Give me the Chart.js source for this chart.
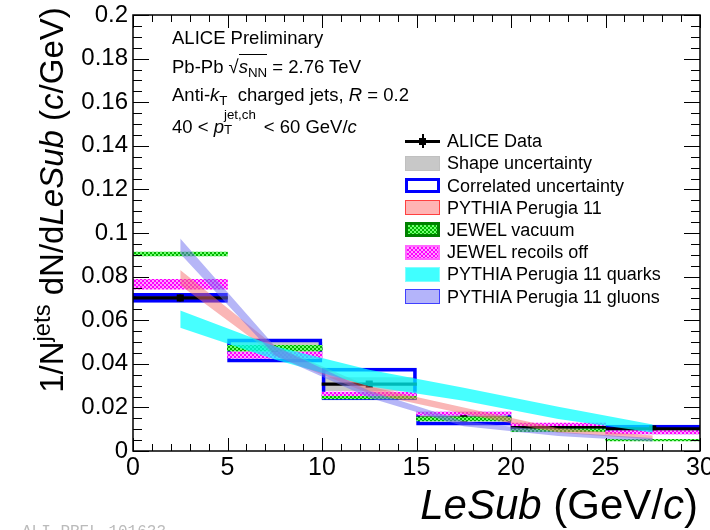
<!DOCTYPE html>
<html><head><meta charset="utf-8">
<script src="https://cdn.jsdelivr.net/npm/chart.js@4.4.1/dist/chart.umd.min.js"></script>
<style>
html,body{margin:0;padding:0;background:#fff;}
#wrap{position:relative;width:710px;height:530px;overflow:hidden;font-family:'Liberation Sans',Arial,sans-serif;color:#000;}
#c{position:absolute;left:0;top:0;}
.t{position:absolute;white-space:nowrap;}
.ann{font-size:18.5px;line-height:18.5px;left:172px;}
.sb{font-size:0.72em;position:relative;top:0.3em;}
.sp{font-size:0.72em;position:relative;top:-0.55em;}
.ol{border-top:1.2px solid #000;padding-top:1px;}
.leg{font-size:18px;line-height:18px;left:447px;}
.sw{position:absolute;left:405px;width:35px;height:15px;box-sizing:border-box;}
#ytitle{position:absolute;width:460px;height:40px;line-height:40px;font-size:33px;text-align:center;transform:rotate(-90deg);transform-origin:50% 50%;white-space:nowrap;}
#xtitle{position:absolute;right:12px;top:484px;font-size:42px;line-height:42px;white-space:nowrap;}
#wm{position:absolute;left:22px;top:524px;font-family:'Liberation Mono',monospace;font-size:16px;line-height:16px;color:#bbb;}
</style></head>
<body>
<div id="wrap">
<canvas id="c" width="710" height="530"></canvas>

<div class="t ann" style="top:29px;">ALICE Preliminary</div>
<div class="t ann" style="top:58px;">Pb-Pb <span>&#8730;<span class="ol"><i>s</i><span class="sb">NN</span></span></span> = 2.76 TeV</div>
<div class="t ann" style="top:86px;">Anti-<i>k</i><span class="sb">T</span>&nbsp; charged jets, <i>R</i> = 0.2</div>
<div class="t ann" style="top:114px;">40 &lt; <i>p</i><span style="display:inline-block;position:relative;width:2.15em;height:1em;"><span style="position:absolute;left:0;top:-0.6em;font-size:0.72em;">jet,ch</span><span style="position:absolute;left:0;top:0.55em;font-size:0.72em;">T</span></span>&lt; 60 GeV/<i>c</i></div>

<div class="sw" style="top:140px;height:2.5px;background:#000;"></div>
<div class="sw" style="top:137.5px;left:419px;width:7px;height:7px;background:#000;"></div>
<div class="sw" style="top:134px;left:421.5px;width:2px;height:14px;background:#000;"></div>
<div class="t leg" style="top:132.2px;">ALICE Data</div>

<div class="sw" style="top:155.7px;background:#c8c8c8;border:1px solid #c0c0c0;"></div>
<div class="t leg" style="top:154.4px;">Shape uncertainty</div>

<div class="sw" style="top:177.9px;background:#fff;border:3px solid #0000ff;"></div>
<div class="t leg" style="top:176.6px;">Correlated uncertainty</div>

<div class="sw" style="top:200.1px;background:#ffb4b4;border:1.5px solid #ff4040;"></div>
<div class="t leg" style="top:198.8px;">PYTHIA Perugia 11</div>

<div class="sw" style="top:222.3px;background:repeating-conic-gradient(#00b400 0 25%, #70ff70 0 50%) 0 0/4px 4px;border:3px solid #008000;"></div>
<div class="t leg" style="top:221px;">JEWEL vacuum</div>

<div class="sw" style="top:244.5px;background:repeating-conic-gradient(#ff00ff 0 25%, #ffa0ff 0 50%) 0 0/4px 4px;border:2px solid #ff66ff;"></div>
<div class="t leg" style="top:243.2px;">JEWEL recoils off</div>

<div class="sw" style="top:266.7px;background:#40ffff;border:1px solid #80ffff;"></div>
<div class="t leg" style="top:265.4px;">PYTHIA Perugia 11 quarks</div>

<div class="sw" style="top:288.9px;background:#b4b4fa;border:1.5px solid #4040ff;"></div>
<div class="t leg" style="top:287.6px;">PYTHIA Perugia 11 gluons</div>

<div id="ytitle" style="left:-178px;top:180px;">1/N<span class="sp">jets</span> dN/d<i>LeSub</i> (<i>c</i>/GeV)</div>
<div id="xtitle"><i>LeSub</i> (GeV/<i>c</i>)</div>
<div id="wm">ALI-PREL-101633</div>
</div>

<script>
// ---- data ----
const binCenters = [2.5, 7.5, 12.5, 17.5, 22.5, 27.5];
const aliceData = [0.0702, 0.0470, 0.0307, 0.0151, 0.0110, 0.0101];
const aliceStatErr = [0.0016, 0.0010, 0.0010, 0.0006, 0.0005, 0.0005];
const shapeUnc = [0.0015, 0.0030, 0.0030, 0.0012, 0.0010, 0.0008];
const corrUncLow = [0.0682, 0.0408, 0.0234, 0.0119, 0.0087, 0.0078];
const corrUncHigh = [0.0723, 0.0514, 0.0380, 0.0179, 0.0124, 0.0119];
const jewelVacuum = [0.0904, 0.0472, 0.0248, 0.0147, 0.0095, 0.0050];
const jewelVacuumErr = [0.0009, 0.0013, 0.0009, 0.0009, 0.0006, 0.0004];
const jewelRecoilsOff = [0.0765, 0.0440, 0.0262, 0.0172, 0.0122, 0.0085];
const jewelRecoilsOffErr = [0.0023, 0.0014, 0.0008, 0.0007, 0.0006, 0.0007];
const pythia = [0.0795, 0.0460, 0.0280, 0.0185, 0.0094, 0.0062];
const pythiaErr = [0.0035, 0.0022, 0.0016, 0.0014, 0.0010, 0.0009];
const pythiaQuarks = [0.0605, 0.0450, 0.0335, 0.0260, 0.0175, 0.0103];
const pythiaQuarksErr = [0.0040, 0.0030, 0.0038, 0.0030, 0.0028, 0.0018];
const pythiaGluons = [0.0940, 0.0460, 0.0260, 0.0125, 0.0078, 0.0052];
const pythiaGluonsErr = [0.0035, 0.0022, 0.0016, 0.0012, 0.0009, 0.0008];

function makePattern(base, dot) {
  const c = document.createElement('canvas'); c.width = 4; c.height = 4;
  const g = c.getContext('2d');
  g.fillStyle = base; g.fillRect(0, 0, 4, 4);
  g.fillStyle = dot; g.fillRect(0, 0, 2, 2); g.fillRect(2, 2, 2, 2);
  return g.createPattern(c, 'repeat');
}
const greenPat = makePattern('#00b400', '#70ff70');
const magPat = makePattern('#ff00ff', '#ffa0ff');

const band = (vals, errs, sign) => binCenters.map((x, i) => ({x, y: vals[i] + sign * errs[i]}));
const bars = (vals, errs) => binCenters.map((x, i) => ({x, y: [vals[i] - errs[i], vals[i] + errs[i]]}));
const barBase = {type: 'bar', grouped: false, barPercentage: 1, categoryPercentage: 1, borderSkipped: false};
const lineBase = {type: 'line', pointRadius: 0, borderWidth: 0, tension: 0};

const datasets = [
  {...barBase, label: 'Shape uncertainty', data: bars(aliceData, shapeUnc), backgroundColor: '#c8c8c8', borderWidth: 0, order: 20},
  {...barBase, label: 'Correlated uncertainty', data: binCenters.map((x, i) => ({x, y: [corrUncLow[i], corrUncHigh[i]]})), backgroundColor: 'rgba(0,0,0,0)', borderColor: '#0000ff', borderWidth: 3, order: 19},
  {...barBase, label: 'ALICE Data line', data: bars(aliceData, aliceData.map(() => 0.0006)), backgroundColor: '#000', borderWidth: 0, order: 18},
  {...barBase, label: 'ALICE Data err', data: bars(aliceData, aliceStatErr), backgroundColor: '#000', borderWidth: 0, barPercentage: 0.022, order: 17},
  {type: 'line', label: 'ALICE Data', data: binCenters.map((x, i) => ({x, y: aliceData[i]})), showLine: false, pointStyle: 'rect', pointRadius: 5, backgroundColor: '#000', borderColor: '#000', borderWidth: 0, order: 16},
  {...barBase, label: 'JEWEL vacuum', data: bars(jewelVacuum, jewelVacuumErr), backgroundColor: greenPat, borderWidth: 0, order: 15},
  {...barBase, label: 'JEWEL recoils off', data: bars(jewelRecoilsOff, jewelRecoilsOffErr), backgroundColor: magPat, borderWidth: 0, order: 14},
  {...lineBase, label: 'PYTHIA Perugia 11 hi', data: band(pythia, pythiaErr, 1), fill: false, order: 13},
  {...lineBase, label: 'PYTHIA Perugia 11', data: band(pythia, pythiaErr, -1), fill: '-1', backgroundColor: 'rgba(245,110,110,0.5)', order: 12},
  {...lineBase, label: 'PYTHIA Perugia 11 quarks hi', data: band(pythiaQuarks, pythiaQuarksErr, 1), fill: false, order: 11},
  {...lineBase, label: 'PYTHIA Perugia 11 quarks', data: band(pythiaQuarks, pythiaQuarksErr, -1), fill: '-1', backgroundColor: 'rgba(0,255,255,0.72)', order: 10},
  {...lineBase, label: 'PYTHIA Perugia 11 gluons hi', data: band(pythiaGluons, pythiaGluonsErr, 1), fill: false, order: 9},
  {...lineBase, label: 'PYTHIA Perugia 11 gluons', data: band(pythiaGluons, pythiaGluonsErr, -1), fill: '-1', backgroundColor: 'rgba(110,110,240,0.5)', order: 8}
];

const frameTicks = {
  id: 'frameTicks',
  afterDraw(chart) {
    const {ctx, chartArea: a, scales: {x, y}} = chart;
    ctx.save();
    ctx.strokeStyle = '#000';
    ctx.lineWidth = 1;
    const seg = (x1, y1, x2, y2) => { ctx.beginPath(); ctx.moveTo(x1, y1); ctx.lineTo(x2, y2); ctx.stroke(); };
    for (let i = 0; i <= 30; i++) {
      const px = Math.round(x.getPixelForValue(i)) + 0.5;
      const len = i % 5 === 0 ? 13 : 7;
      seg(px, a.bottom, px, a.bottom - len);
      seg(px, a.top, px, a.top + len);
    }
    for (let i = 0; i <= 40; i++) {
      const py = Math.round(y.getPixelForValue(i * 0.005)) + 0.5;
      const len = i % 4 === 0 ? 16 : 9;
      seg(a.left, py, a.left + len, py);
      seg(a.right, py, a.right - len, py);
    }
    ctx.lineWidth = 1.5;
    ctx.strokeRect(a.left, a.top, a.right - a.left, a.bottom - a.top);
    ctx.restore();
  }
};

new Chart(document.getElementById('c'), {
  type: 'line',
  data: {datasets},
  options: {
    responsive: false, animation: false, devicePixelRatio: 1, events: [],
    layout: {padding: {left: 0, right: 10, top: 15, bottom: 0}},
    plugins: {legend: {display: false}, tooltip: {enabled: false}},
    scales: {
      x: {type: 'linear', min: 0, max: 30, offset: false,
          grid: {display: false, drawTicks: false}, border: {display: false},
          ticks: {stepSize: 5, color: '#000', font: {family: 'Liberation Sans', size: 25}, padding: 2, maxRotation: 0, autoSkip: false},
          afterFit(s) { s.height = 79; s.paddingLeft = 0; s.paddingRight = 0; }},
      y: {type: 'linear', min: 0, max: 0.2,
          grid: {display: false, drawTicks: false}, border: {display: false},
          ticks: {stepSize: 0.02, color: '#000', font: {family: 'Liberation Sans', size: 24}, padding: 5,
                  callback: v => String(+Number(v).toFixed(2))},
          afterFit(s) { s.width = 133; s.paddingTop = 0; s.paddingBottom = 0; }}
    }
  },
  plugins: [frameTicks]
});
</script>
</body></html>
